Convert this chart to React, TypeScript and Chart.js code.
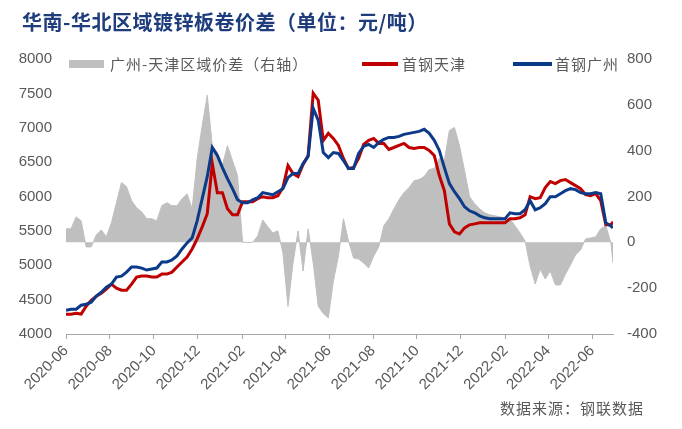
import React, { useEffect, useRef } from "react";
import { Chart, registerables } from "chart.js";

Chart.register(...registerables);

// Weekly observation dates
const dates = [
  "2020-06-01","2020-06-08","2020-06-15","2020-06-22","2020-06-29","2020-07-06","2020-07-13","2020-07-20","2020-07-27","2020-08-03",
  "2020-08-10","2020-08-17","2020-08-24","2020-08-31","2020-09-07","2020-09-14","2020-09-21","2020-09-28","2020-10-05","2020-10-12",
  "2020-10-19","2020-10-26","2020-11-02","2020-11-09","2020-11-16","2020-11-23","2020-11-30","2020-12-07","2020-12-14","2020-12-21",
  "2020-12-28","2021-01-04","2021-01-11","2021-01-18","2021-01-25","2021-02-01","2021-02-08","2021-02-15","2021-02-22","2021-03-01",
  "2021-03-08","2021-03-15","2021-03-22","2021-03-29","2021-04-05","2021-04-12","2021-04-19","2021-04-26","2021-05-03","2021-05-10",
  "2021-05-17","2021-05-24","2021-05-31","2021-06-07","2021-06-14","2021-06-21","2021-06-28","2021-07-05","2021-07-12","2021-07-19",
  "2021-07-26","2021-08-02","2021-08-09","2021-08-16","2021-08-23","2021-08-30","2021-09-06","2021-09-13","2021-09-20","2021-09-27",
  "2021-10-04","2021-10-11","2021-10-18","2021-10-25","2021-11-01","2021-11-08","2021-11-15","2021-11-22","2021-11-29","2021-12-06",
  "2021-12-13","2021-12-20","2021-12-27","2022-01-03","2022-01-10","2022-01-17","2022-01-24","2022-01-31","2022-02-07","2022-02-14",
  "2022-02-21","2022-02-28","2022-03-07","2022-03-14","2022-03-21","2022-03-28","2022-04-04","2022-04-11","2022-04-18","2022-04-25",
  "2022-05-02","2022-05-09","2022-05-16","2022-05-23","2022-05-30","2022-06-06","2022-06-13","2022-06-20","2022-06-27","2022-06-30",
];

// 首钢天津 (left axis)
const tianjin = [
  4287,4287,4300,4290,4404,4491,4550,4594,4652,4725,
  4667,4637,4637,4725,4828,4842,4842,4828,4828,4871,
  4871,4900,4974,5047,5120,5237,5383,5558,5749,6480,
  6056,6056,5822,5734,5734,5924,5924,5924,5968,5997,
  5982,5982,6012,6129,6450,6333,6290,6465,6597,7503,
  7400,6816,6918,6845,6743,6553,6406,6421,6553,6757,
  6816,6845,6772,6772,6684,6713,6743,6772,6713,6699,
  6713,6713,6670,6597,6304,6085,5602,5485,5456,5544,
  5588,5602,5617,5617,5617,5617,5617,5617,5675,5675,
  5690,5734,5997,5968,5982,6129,6216,6187,6231,6246,
  6202,6158,6114,6026,6012,6041,5939,5588,5588,5632,
];

// 首钢广州 (left axis)
const guangzhou = [
  4345,4360,4360,4418,4433,4462,4550,4608,4681,4725,
  4828,4842,4901,4974,4974,4959,4930,4945,4959,5047,
  5047,5076,5135,5237,5325,5398,5646,5968,6289,6713,
  6597,6421,6260,6114,5953,5909,5909,5953,5982,6056,
  6041,6026,6070,6114,6275,6333,6333,6480,6582,7284,
  7108,6640,6567,6640,6626,6523,6406,6406,6626,6728,
  6757,6713,6787,6830,6860,6860,6874,6904,6918,6933,
  6947,6977,6918,6816,6670,6421,6187,6070,5968,5851,
  5792,5763,5719,5690,5675,5675,5675,5675,5763,5749,
  5749,5807,5939,5807,5836,5895,5997,5997,6041,6085,
  6114,6100,6056,6041,6041,6056,6041,5617,5573,5544,
];

// 广州-天津区域价差 (right axis)
const spread = [
  59,59,111,94,-20,-20,32,54,24,85,
  173,261,243,182,151,133,103,103,94,160,
  173,160,160,190,212,146,365,510,642,422,
  392,335,422,357,292,0,0,0,28,98,
  68,41,50,-46,-279,-90,50,-125,59,-90,
  -279,-310,-330,-169,-60,103,6,-68,-73,-90,
  -112,-60,-20,72,103,146,186,217,239,269,
  274,287,318,322,366,357,488,501,422,313,
  199,168,146,129,120,116,111,107,103,72,
  41,6,-104,-182,-117,-160,-125,-186,-186,-139,
  -99,-55,-33,15,19,24,59,72,0,-90,
];

const xTickLabels = [
  "2020-06","2020-08","2020-10","2020-12","2021-02","2021-04","2021-06",
  "2021-08","2021-10","2021-12","2022-02","2022-04","2022-06",
];

const seriesNames = ["广州-天津区域价差（右轴）", "首钢天津", "首钢广州"];
const titleText = "华南-华北区域镀锌板卷价差（单位：元/吨）";
const sourceText = "数据来源：钢联数据";

const BASE = Date.UTC(2020, 5, 1);
const dayOf = (s: string) => {
  const p = s.split("-").map(Number);
  return Math.round((Date.UTC(p[0], p[1] - 1, p[2] || 1) - BASE) / 86400000);
};

const RED = "#C00000";
const BLUE = "#0A3A88";
const GRAY = "#BFBFBF";
const TEXT = "#595959";
const AXIS = "#A6A6A6";
const tickFont = { family: "'Liberation Sans', Arial, sans-serif", size: 15 };

export default function App() {
  const ref = useRef<HTMLCanvasElement | null>(null);

  useEffect(() => {
    if (!ref.current) return;
    const toPts = (vals: number[]) => vals.map((v, i) => ({ x: dayOf(dates[i]), y: v }));
    const tickVals = xTickLabels.map((l) => dayOf(l + "-01"));
    const chart = new Chart(ref.current, {
      type: "line",
      data: {
        datasets: [
          {
            label: seriesNames[2],
            data: toPts(guangzhou),
            borderColor: BLUE,
            borderWidth: 3,
            pointRadius: 0,
            tension: 0,
            yAxisID: "y",
            order: 1,
          },
          {
            label: seriesNames[1],
            data: toPts(tianjin),
            borderColor: RED,
            borderWidth: 3,
            pointRadius: 0,
            tension: 0,
            yAxisID: "y",
            order: 2,
          },
          {
            label: seriesNames[0],
            data: toPts(spread),
            borderColor: GRAY,
            backgroundColor: GRAY,
            borderWidth: 1,
            pointRadius: 0,
            tension: 0,
            fill: "origin",
            yAxisID: "y1",
            order: 3,
          },
        ],
      },
      options: {
        responsive: false,
        animation: false,
        devicePixelRatio: 1,
        layout: { padding: { top: 59, left: 0, right: 0, bottom: 0 } },
        plugins: { legend: { display: false }, tooltip: { enabled: false }, title: { display: false } },
        scales: {
          x: {
            type: "linear",
            min: 0,
            max: dayOf("2022-06-30"),
            afterBuildTicks: (axis: any) => {
              axis.ticks = tickVals.map((v) => ({ value: v }));
            },
            afterFit: (axis: any) => {
              axis.height = 95;
            },
            ticks: {
              autoSkip: false,
              minRotation: 45,
              maxRotation: 45,
              padding: 3,
              color: TEXT,
              font: tickFont,
              callback: (_v: any, i: number) => xTickLabels[i],
            },
            grid: { display: true, drawOnChartArea: false, drawTicks: true, tickLength: 5, color: AXIS },
            border: { display: true, color: AXIS, width: 1 },
          },
          y: {
            position: "left",
            min: 4000,
            max: 8000,
            afterFit: (axis: any) => {
              axis.width = 66;
            },
            ticks: { stepSize: 500, padding: 14, color: TEXT, font: tickFont, callback: (v: any) => String(v) },
            grid: { display: false, drawTicks: false },
            border: { display: false },
          },
          y1: {
            position: "right",
            min: -400,
            max: 800,
            afterFit: (axis: any) => {
              axis.width = 69;
            },
            ticks: { stepSize: 200, padding: 14, color: TEXT, font: tickFont, callback: (v: any) => String(v) },
            grid: { display: false, drawTicks: false },
            border: { display: false },
          },
        },
      },
    } as any);
    return () => chart.destroy();
  }, []);

  const legendText: React.CSSProperties = {
    position: "absolute",
    top: 56,
    fontFamily: "'Noto Sans CJK SC', sans-serif",
    fontSize: 15,
    lineHeight: "16px",
    letterSpacing: 1,
    color: TEXT,
    whiteSpace: "nowrap",
  };

  return (
    <div style={{ position: "absolute", left: 0, top: 0, width: 682, height: 429, background: "#fff", overflow: "hidden" }}>
      <canvas ref={ref} width={682} height={429} style={{ position: "absolute", left: 0, top: 0, width: 682, height: 429 }} />
      <div
        style={{
          position: "absolute",
          left: 22,
          top: 12,
          fontFamily: "'Noto Sans CJK SC', sans-serif",
          fontWeight: 700,
          fontSize: 20,
          lineHeight: "20px",
          letterSpacing: 0.5,
          color: "#1F3D7C",
          whiteSpace: "nowrap",
        }}
      >
        {titleText}
      </div>
      <div style={{ position: "absolute", left: 69, top: 60, width: 35, height: 8, background: GRAY }} />
      <div style={{ ...legendText, left: 110 }}>{seriesNames[0]}</div>
      <div style={{ position: "absolute", left: 362, top: 62, width: 36, height: 4, background: RED }} />
      <div style={{ ...legendText, left: 402 }}>{seriesNames[1]}</div>
      <div style={{ position: "absolute", left: 513, top: 62, width: 39, height: 4, background: BLUE }} />
      <div style={{ ...legendText, left: 555 }}>{seriesNames[2]}</div>
      <div style={{ ...legendText, top: 400, left: 500 }}>{sourceText}</div>
    </div>
  );
}
